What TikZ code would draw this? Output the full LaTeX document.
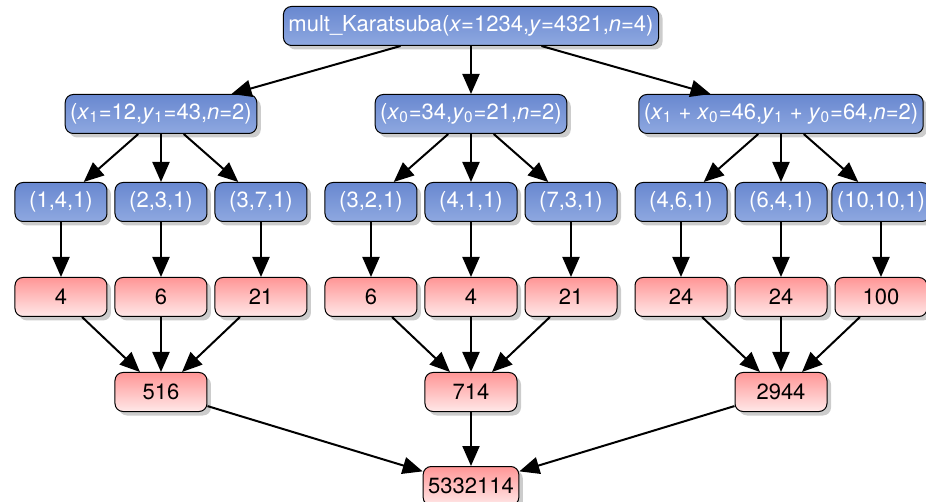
\documentclass[tikz,border=0pt]{standalone}
\usepackage{fontspec}
\setmainfont{TeX Gyre Heros}
\usepackage{tikz}
\usetikzlibrary{arrows.meta,positioning,shadows}
\definecolor{callblue}{RGB}{104,136,208}
\definecolor{callbluelight}{RGB}{143,168,224}
\definecolor{resred}{RGB}{255,150,150}
\definecolor{resredlight}{RGB}{255,232,232}
\tikzstyle{box} = [rectangle, rounded corners=4pt, draw=black, line width=0.5pt, minimum width=46pt, minimum height=19.5pt, inner xsep=2.5pt, font=\fontsize{11}{13}\selectfont, drop shadow={shadow xshift=2pt,shadow yshift=-2pt,opacity=0.4}]
\tikzstyle{call} = [box, top color=callblue, bottom color=callbluelight, text=white]
\tikzstyle{result} = [box, top color=resred, bottom color=resredlight, text=black]
\tikzstyle{link} = [->, line width=1pt]
\newcommand{\ix}[2]{\textit{#1}\textsubscript{#2}}

\begin{document}
\begin{tikzpicture}[>={Triangle[length=10pt,width=8.5pt]}]
      \useasboundingbox (-235.5pt,-238pt) rectangle (227.5pt,13pt);
      \node[call] (KaratsubaCall) at (0,0) {mult\_Karatsuba(\textit{x}=1234,\textit{y}=4321,\textit{n}=4)};
      \node[call,below=24pt of KaratsubaCall,xshift=-155pt] (HighHalves) {(\ix{x}{1}=12,\ix{y}{1}=43,\textit{n}=2)};
      \node[call,below=24pt of KaratsubaCall] (LowHalves) {(\ix{x}{0}=34,\ix{y}{0}=21,\textit{n}=2)};
      \node[call,below=24pt of KaratsubaCall,xshift=155pt] (SumHalves) {(\ix{x}{1} + \ix{x}{0}=46,\ix{y}{1} + \ix{y}{0}=64,\textit{n}=2)};
      %
      \node[call,below=24pt of HighHalves,xshift=-50pt] (HighProdA) {(1,4,1)};
      \node[call,below=24pt of HighHalves] (HighProdB) {(2,3,1)};
      \node[call,below=24pt of HighHalves,xshift=50pt] (HighProdC) {(3,7,1)};
      \node[call,below=24pt of LowHalves,xshift=-50pt] (LowProdA) {(3,2,1)};
      \node[call,below=24pt of LowHalves] (LowProdB) {(4,1,1)};
      \node[call,below=24pt of LowHalves,xshift=50pt] (LowProdC) {(7,3,1)};
      \node[call,below=24pt of SumHalves,xshift=-50pt] (SumProdA) {(4,6,1)};
      \node[call,below=24pt of SumHalves] (SumProdB) {(6,4,1)};
      \node[call,below=24pt of SumHalves,xshift=50pt] (SumProdC) {(10,10,1)};
      %
      \node[result,below=27.5pt of HighProdA] (HighResA) {4};
      \node[result,below=27.5pt of HighProdB] (HighResB) {6};
      \node[result,below=27.5pt of HighProdC] (HighResC) {21};
      \node[result,below=27.5pt of LowProdA] (LowResA) {6};
      \node[result,below=27.5pt of LowProdB] (LowResB) {4};
      \node[result,below=27.5pt of LowProdC] (LowResC) {21};
      \node[result,below=27.5pt of SumProdA] (SumResA) {24};
      \node[result,below=27.5pt of SumProdB] (SumResB) {24};
      \node[result,below=27.5pt of SumProdC] (SumResC) {100};
      %
      \node[result,below=27.5pt of HighResB] (HighResult) {516};
      \node[result,below=27.5pt of LowResB] (LowResult) {714};
      \node[result,below=27.5pt of SumResB] (SumResult) {2944};
      \node[result,below=27pt of LowResult] (FinalResult) {5332114};
      %
      \draw[link] (KaratsubaCall) -- (HighHalves);
      \draw[link] (KaratsubaCall) -- (LowHalves);
      \draw[link] (KaratsubaCall) -- (SumHalves);
      \draw[link] (HighHalves) -- (HighProdA);
      \draw[link] (HighHalves) -- (HighProdB);
      \draw[link] (HighHalves) -- (HighProdC);
      \draw[link] (LowHalves) -- (LowProdA);
      \draw[link] (LowHalves) -- (LowProdB);
      \draw[link] (LowHalves) -- (LowProdC);
      \draw[link] (SumHalves) -- (SumProdA);
      \draw[link] (SumHalves) -- (SumProdB);
      \draw[link] (SumHalves) -- (SumProdC);
      %
      \draw[link] (HighProdA) -- (HighResA);
      \draw[link] (HighProdB) -- (HighResB);
      \draw[link] (HighProdC) -- (HighResC);
      \draw[link] (LowProdA) -- (LowResA);
      \draw[link] (LowProdB) -- (LowResB);
      \draw[link] (LowProdC) -- (LowResC);
      \draw[link] (SumProdA) -- (SumResA);
      \draw[link] (SumProdB) -- (SumResB);
      \draw[link] (SumProdC) -- (SumResC);
      %
      \draw[link] (HighResA) -- (HighResult);
      \draw[link] (HighResB) -- (HighResult);
      \draw[link] (HighResC) -- (HighResult);
      \draw[link] (LowResA) -- (LowResult);
      \draw[link] (LowResB) -- (LowResult);
      \draw[link] (LowResC) -- (LowResult);
      \draw[link] (SumResA) -- (SumResult);
      \draw[link] (SumResB) -- (SumResult);
      \draw[link] (SumResC) -- (SumResult);
      \draw[link] (HighResult) -- (FinalResult);
      \draw[link] (LowResult) -- (FinalResult);
      \draw[link] (SumResult) -- (FinalResult);
    \end{tikzpicture}
\end{document}
